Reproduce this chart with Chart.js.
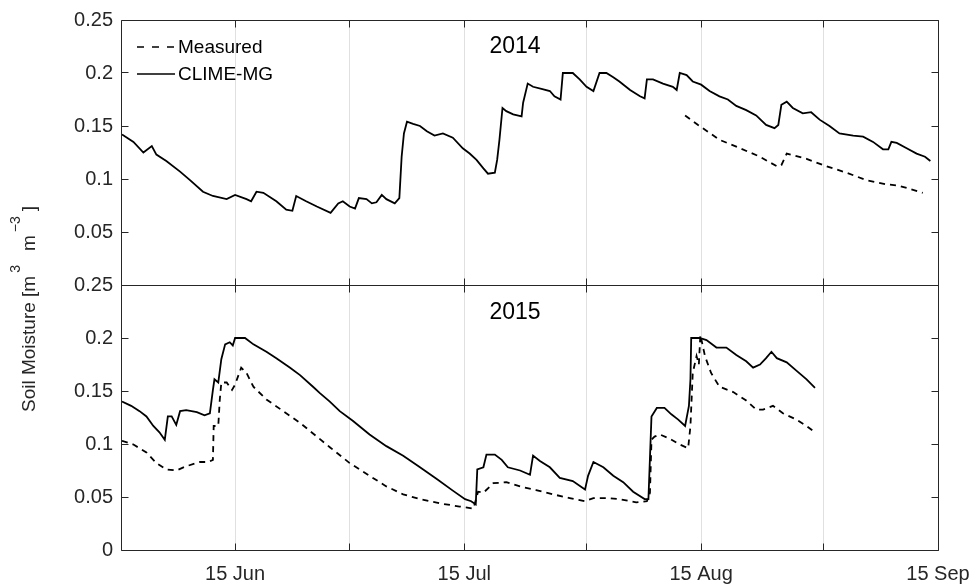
<!DOCTYPE html>
<html>
<head>
<meta charset="utf-8">
<script src="https://cdn.jsdelivr.net/npm/chart.js@4.4.1/dist/chart.umd.min.js"></script>
<style>
  html, body { margin: 0; padding: 0; background: #fff; }
  #wrap { width: 974px; height: 585px; position: relative; }
</style>
</head>
<body>
<div id="wrap"><canvas id="soilChart"></canvas></div>
<script>
// x values are day of year (15 Jun = 166)
const xTickDays = [166, 181, 196, 212, 227, 243, 258];
const xTickLabels = ["15 Jun", "", "15 Jul", "", "15 Aug", "", "15 Sep"];
const yTickValues = [0, 0.05, 0.1, 0.15, 0.2, 0.25];
const yTickLabels = ["0", "0.05", "0.1", "0.15", "0.2", "0.25"];
const panelYears = ["2014", "2015"];
const seriesNames = ["Measured", "CLIME-MG"];

const clime2014Day = [151.2, 152.7, 154.0, 155.1, 155.7, 157.0, 158.8, 160.1, 161.8, 163.1, 164.9, 166.0, 167.5, 168.1, 168.8, 169.7,
  171.4, 172.7, 173.5, 174.0, 175.3, 176.7, 178.5, 179.5, 180.1, 181.0, 181.7, 182.2, 183.2, 183.9, 184.5, 185.2, 185.8, 186.9,
  187.5, 187.8, 188.1, 188.5, 189.3, 190.2, 191.1, 192.1, 193.2, 194.5, 195.8, 196.7, 197.6, 198.5, 199.1, 200.0, 200.3, 200.6,
  201.0, 201.5, 202.4, 203.5, 203.7, 204.3, 205.0, 206.1, 207.2, 207.8, 208.6, 208.9, 210.2, 211.1, 212.0, 212.9, 213.7, 214.6,
  215.5, 216.3, 217.7, 219.0, 219.6, 219.9, 220.7, 222.0, 223.3, 223.8, 224.2, 225.1, 225.9, 227.0, 228.1, 229.4, 230.5, 231.6,
  232.9, 234.2, 235.5, 236.6, 237.1, 237.5, 238.2, 239.0, 240.3, 241.4, 242.5, 243.8, 245.1, 246.9, 248.2, 249.5, 250.8, 251.5,
  251.9, 252.6, 253.9, 255.2, 256.3, 257.0];
const clime2014Val = [0.142, 0.135, 0.125, 0.131, 0.123, 0.117, 0.107, 0.099, 0.088, 0.084, 0.081, 0.085, 0.081, 0.079, 0.088, 0.087,
  0.079, 0.071, 0.070, 0.084, 0.079, 0.074, 0.068, 0.077, 0.079, 0.074, 0.072, 0.082, 0.081, 0.077, 0.078, 0.085, 0.081, 0.077,
  0.082, 0.121, 0.143, 0.154, 0.152, 0.150, 0.145, 0.141, 0.143, 0.139, 0.129, 0.124, 0.118, 0.110, 0.105, 0.106, 0.118, 0.137,
  0.167, 0.164, 0.161, 0.159, 0.172, 0.190, 0.187, 0.185, 0.183, 0.178, 0.175, 0.200, 0.200, 0.194, 0.187, 0.183, 0.200, 0.200,
  0.196, 0.192, 0.184, 0.178, 0.176, 0.194, 0.194, 0.190, 0.187, 0.184, 0.200, 0.198, 0.192, 0.189, 0.183, 0.178, 0.175, 0.169,
  0.165, 0.160, 0.151, 0.148, 0.151, 0.170, 0.173, 0.167, 0.162, 0.163, 0.156, 0.150, 0.143, 0.141, 0.140, 0.135, 0.128, 0.128,
  0.135, 0.134, 0.129, 0.124, 0.121, 0.117];

const meas2014Day = [224.9, 226.6, 229.4, 232.1, 234.7, 236.9, 237.5, 238.2, 240.8, 243.4, 246.0, 248.6, 251.2, 252.6, 253.9, 256.0];
const meas2014Val = [0.160, 0.151, 0.137, 0.129, 0.121, 0.112, 0.113, 0.124, 0.119, 0.112, 0.106, 0.099, 0.095, 0.094, 0.0915, 0.087];

const clime2015Day = [151.2, 152.4, 153.5, 154.4, 155.3, 156.1, 156.8, 157.2, 157.7, 158.3, 158.8, 159.6, 161.0, 162.0, 162.7, 163.1,
  163.3, 163.8, 164.2, 164.7, 165.3, 165.7, 166.0, 167.3, 168.4, 170.1, 171.4, 173.2, 174.5, 176.2, 177.1, 178.4, 179.7, 181.4,
  183.6, 185.8, 188.0, 190.2, 192.4, 194.5, 196.1, 196.9, 197.5, 197.7, 198.5, 198.9, 200.0, 200.9, 201.7, 203.3, 204.6, 205.0,
  205.9, 207.2, 208.5, 210.2, 211.8, 212.2, 212.9, 214.2, 215.5, 216.8, 218.1, 219.6, 220.1, 220.5, 221.2, 222.2, 223.1, 224.0,
  224.9, 225.4, 225.6, 225.7, 226.8, 227.7, 229.0, 230.3, 231.6, 232.9, 233.8, 234.7, 235.5, 236.2, 236.9, 238.2, 239.5, 240.8,
  241.9];
const clime2015Val = [0.140, 0.136, 0.131, 0.126, 0.117, 0.111, 0.104, 0.126, 0.126, 0.118, 0.131, 0.132, 0.130, 0.127, 0.129, 0.151,
  0.161, 0.158, 0.180, 0.194, 0.196, 0.193, 0.200, 0.200, 0.194, 0.187, 0.181, 0.172, 0.165, 0.154, 0.148, 0.140, 0.131, 0.122,
  0.109, 0.098, 0.089, 0.078, 0.067, 0.056, 0.048, 0.046, 0.043, 0.076, 0.078, 0.090, 0.090, 0.085, 0.078, 0.075, 0.071, 0.089,
  0.084, 0.078, 0.068, 0.065, 0.057, 0.070, 0.083, 0.078, 0.070, 0.064, 0.055, 0.048, 0.048, 0.126, 0.134, 0.134, 0.128, 0.123,
  0.117, 0.136, 0.161, 0.200, 0.200, 0.198, 0.191, 0.191, 0.184, 0.178, 0.172, 0.175, 0.181, 0.187, 0.181, 0.177, 0.169, 0.161,
  0.153];

const meas2015Day = [151.2, 152.7, 154.4, 155.7, 157.0, 158.3, 159.6, 161.4, 162.5, 163.1, 163.2, 163.8, 164.0, 164.2, 164.9, 165.6,
  166.0, 166.8, 167.5, 168.4, 170.1, 172.3, 174.5, 176.7, 178.4, 181.0, 183.6, 185.8, 188.0, 190.2, 192.8, 195.4, 197.2, 197.8,
  198.5, 199.8, 201.5, 203.3, 205.4, 207.6, 209.8, 211.8, 212.9, 214.6, 216.3, 218.5, 219.9, 220.3, 220.5, 220.9, 221.6, 222.9,
  224.2, 225.3, 225.6, 225.9, 226.4, 226.7, 226.9, 227.5, 228.3, 229.4, 231.2, 232.9, 234.2, 235.1, 236.4, 237.7, 239.5, 240.8,
  241.9];
const meas2015Val = [0.103, 0.0995, 0.092, 0.082, 0.076, 0.075, 0.079, 0.083, 0.083, 0.085, 0.117, 0.117, 0.142, 0.158, 0.158, 0.151,
  0.156, 0.172, 0.167, 0.154, 0.142, 0.131, 0.120, 0.107, 0.097, 0.082, 0.070, 0.060, 0.0525, 0.048, 0.044, 0.041, 0.039, 0.055,
  0.054, 0.063, 0.064, 0.060, 0.0565, 0.0525, 0.049, 0.046, 0.049, 0.049, 0.048, 0.045, 0.046, 0.054, 0.104, 0.107, 0.109, 0.105,
  0.0995, 0.096, 0.117, 0.167, 0.183, 0.175, 0.203, 0.183, 0.167, 0.154, 0.149, 0.141, 0.1325, 0.1325, 0.136, 0.129, 0.123, 0.117,
  0.111];

const FONT = '"Liberation Sans", Arial, sans-serif';
const AXIS_COLOR = "#262626";

function pts(days, vals) {
  return days.map((d, i) => ({ x: d, y: vals[i] }));
}

function line(label, days, vals, axis, dashed) {
  return {
    label,
    data: pts(days, vals),
    yAxisID: axis,
    borderColor: "#000",
    borderWidth: 1.8,
    borderDash: dashed ? [6, 5] : [],
    pointRadius: 0,
    tension: 0,
    fill: false
  };
}

// box, inward ticks, labels, legend and the y title
const framePlugin = {
  id: "frame",
  afterDraw(chart) {
    const { ctx, chartArea: area, scales } = chart;
    const xs = scales.x;
    const panels = [scales.yTop, scales.yBot];
    const L = Math.floor(area.left) - 0.5;
    const R = Math.floor(area.right) + 0.5;
    const tick = 7;

    ctx.save();
    ctx.strokeStyle = AXIS_COLOR;
    ctx.lineWidth = 1;
    ctx.fillStyle = AXIS_COLOR;
    ctx.font = "20px " + FONT;

    panels.forEach((ys, p) => {
      const T = Math.floor(ys.top) + 0.5;
      const B = Math.floor(ys.bottom) + 0.5;

      ctx.beginPath();
      ctx.rect(L, T, R - L, B - T);
      yTickValues.forEach((v) => {
        const py = Math.floor(ys.getPixelForValue(v)) + 0.5;
        ctx.moveTo(L, py); ctx.lineTo(L + tick, py);
        ctx.moveTo(R, py); ctx.lineTo(R - tick, py);
      });
      xTickDays.forEach((d) => {
        const px = Math.floor(xs.getPixelForValue(d)) + 0.5;
        ctx.moveTo(px, T); ctx.lineTo(px, T + tick);
        ctx.moveTo(px, B); ctx.lineTo(px, B - tick);
      });
      ctx.stroke();

      ctx.textAlign = "right";
      ctx.textBaseline = "middle";
      yTickValues.forEach((v, i) => {
        if (p === 0 && v === 0) return;
        ctx.fillText(yTickLabels[i], area.left - 9, ys.getPixelForValue(v));
      });
    });

    ctx.textAlign = "center";
    ctx.textBaseline = "alphabetic";
    xTickDays.forEach((d, i) => {
      if (xTickLabels[i]) ctx.fillText(xTickLabels[i], xs.getPixelForValue(d), 580);
    });

    // year labels
    ctx.fillStyle = "#000";
    ctx.font = "23px " + FONT;
    ctx.textBaseline = "middle";
    ctx.fillText(panelYears[0], 515, 47);
    ctx.fillText(panelYears[1], 515, 313);

    // legend
    ctx.strokeStyle = "#000";
    ctx.lineWidth = 1.6;
    ctx.setLineDash([7, 8]);
    ctx.beginPath(); ctx.moveTo(137, 47); ctx.lineTo(175, 47); ctx.stroke();
    ctx.setLineDash([]);
    ctx.beginPath(); ctx.moveTo(137, 74); ctx.lineTo(175, 74); ctx.stroke();
    ctx.font = "19px " + FONT;
    ctx.textAlign = "left";
    ctx.fillText(seriesNames[0], 178, 48);
    ctx.fillText(seriesNames[1], 178, 75);

    // y title with superscripts
    ctx.fillStyle = AXIS_COLOR;
    ctx.translate(35, 412);
    ctx.rotate(-Math.PI / 2);
    ctx.textBaseline = "alphabetic";
    const parts = [
      ["Soil Moisture [m", 19, 0, 3],
      ["3", 14, -15, 14],
      ["m", 19, 0, 3],
      ["\u22123", 14, -15, 5],
      ["]", 19, 0, 0]
    ];
    let pos = 0;
    parts.forEach(([txt, size, dy, gap]) => {
      ctx.font = size + "px " + FONT;
      ctx.fillText(txt, pos, dy);
      pos += ctx.measureText(txt).width + gap;
    });
    ctx.restore();
  }
};

function init() {
  const canvas = document.getElementById("soilChart");
  const hiddenY = {
    type: "linear",
    position: "left",
    stack: "panels",
    stackWeight: 1,
    min: 0,
    max: 0.25,
    ticks: { display: false },
    grid: { display: false, drawTicks: false },
    border: { display: false }
  };
  new Chart(canvas, {
    type: "line",
    data: {
      datasets: [
        line(seriesNames[0], meas2014Day, meas2014Val, "yTop", true),
        line(seriesNames[1], clime2014Day, clime2014Val, "yTop", false),
        line(seriesNames[0], meas2015Day, meas2015Val, "yBot", true),
        line(seriesNames[1], clime2015Day, clime2015Val, "yBot", false)
      ]
    },
    options: {
      animation: false,
      responsive: true,
      maintainAspectRatio: false,
      layout: { padding: { left: 122, right: 36, top: 20, bottom: 35 } },
      plugins: { legend: { display: false }, tooltip: { enabled: false } },
      scales: {
        x: {
          type: "linear",
          min: 151.2,
          max: 258,
          afterBuildTicks: (axis) => { axis.ticks = xTickDays.map((v) => ({ value: v })); },
          ticks: { display: false },
          grid: { color: "#e0e0e0", lineWidth: 1, drawTicks: false },
          border: { display: false }
        },
        yBot: Object.assign({}, hiddenY),
        yTop: Object.assign({}, hiddenY)
      }
    },
    plugins: [framePlugin]
  });
}

window.addEventListener("DOMContentLoaded", init);
</script>
</body>
</html>
